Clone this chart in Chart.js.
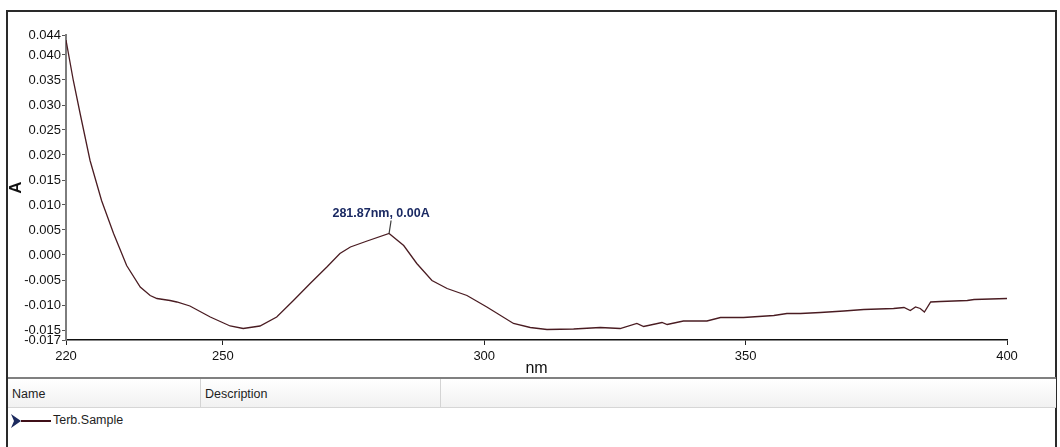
<!DOCTYPE html>
<html>
<head>
<meta charset="utf-8">
<script src="https://cdn.jsdelivr.net/npm/chart.js@4/dist/chart.umd.min.js"></script>
<style>
    body { margin: 0; background: #fff; width: 1060px; height: 447px; overflow: hidden; position: relative; }
    #frame { position: absolute; left: 6px; top: 10px; width: 1051px; height: 470px; border: 2px solid #2a2a2a; box-sizing: border-box; }
    #chartBox { position: absolute; left: 8px; top: 12px; width: 1048px; height: 365px; }
    #sep { position: absolute; left: 8px; top: 377px; width: 1048px; height: 2px; background: #808080; }
    #header { position: absolute; left: 8px; top: 379px; width: 1048px; height: 28px; background: linear-gradient(#ffffff, #f1f1f1); border-bottom: 1px solid #d6d6d6; }
    .col { position: absolute; top: 0; height: 28px; width: 1px; background: #d4d4d4; }
    .txt { position: absolute; font-family: 'Liberation Sans', Arial, sans-serif; font-size: 12.5px; color: #1e1e1e; white-space: nowrap; }
    #legendLine { position: absolute; left: 21px; top: 420px; width: 30px; height: 2px; background: #3f0f18; }
</style>
</head>
<body>
<div id="frame"></div>
<div id="chartBox"><canvas id="spectrumChart"></canvas></div>
<div id="sep"></div>
<div id="header">
    <div class="col" style="left:192px"></div>
    <div class="col" style="left:432px"></div>
</div>
<div class="txt" id="nameHead" style="left:12px; top:387px;">Name</div>
<div class="txt" id="descHead" style="left:205px; top:387px;">Description</div>
<svg style="position:absolute; left:11px; top:414px;" width="11" height="14"><polygon points="0,0 10,7 0,14 3,7" fill="#1c2a5e"/></svg>
<div id="legendLine"></div>
<div class="txt" id="seriesLabel" style="left:53px; top:413px;"></div>

<script>
// spectrum (nm / absorbance)
const wavelengths = [220.0, 221.4, 222.7, 224.6, 226.8, 229.1, 231.6, 234.2, 236.1, 237.4, 239.9, 241.2, 243.7, 247.6, 251.4, 253.9, 257.1, 260.3, 263.5, 266.7, 269.9, 272.4, 274.4, 277.6, 281.8, 284.6, 287.1, 290.0, 292.9, 296.7, 300.5, 305.6, 308.8, 312.0, 317.1, 322.2, 326.0, 329.2, 330.5, 334.0, 335.0, 338.1, 342.6, 345.2, 349.6, 355.4, 357.9, 360.5, 364.3, 368.8, 372.6, 378.3, 380.3, 381.5, 382.5, 383.4, 384.2, 385.4, 387.3, 392.4, 393.7, 400.0];
const absorbance = [0.0430, 0.0349, 0.0283, 0.0189, 0.0109, 0.0043, -0.0021, -0.0064, -0.0081, -0.0087, -0.0091, -0.0094, -0.0102, -0.0124, -0.0142, -0.0147, -0.0142, -0.0124, -0.0091, -0.0057, -0.0024, 0.0003, 0.0016, 0.0028, 0.0043, 0.0019, -0.0017, -0.0051, -0.0067, -0.0081, -0.0104, -0.0137, -0.0145, -0.0149, -0.0148, -0.0145, -0.0147, -0.0137, -0.0143, -0.0135, -0.0139, -0.0132, -0.0132, -0.0125, -0.0125, -0.0121, -0.0117, -0.0117, -0.0115, -0.0112, -0.0109, -0.0107, -0.0105, -0.0111, -0.0104, -0.0107, -0.0114, -0.0094, -0.0093, -0.0091, -0.0089, -0.0087];
const yTicks = [0.044, 0.040, 0.035, 0.030, 0.025, 0.020, 0.015, 0.010, 0.005, 0.000, -0.005, -0.010, -0.015, -0.017];
const xTicks = [220, 250, 300, 350, 400];
const peakLabel = '281.87nm, 0.00A';
const seriesName = 'Terb.Sample';

const sansFont = "'Liberation Sans', Arial, sans-serif";

document.getElementById('seriesLabel').textContent = seriesName;

// peak label with its small leader line
const peakMarker = {
    id: 'peakMarker',
    afterDatasetsDraw: function(chart) {
        const ctx = chart.ctx;
        const xs = chart.scales.x, ys = chart.scales.y;
        let best = -1;
        wavelengths.forEach((w, i) => {
            if (w > 260 && w < 300 && (best < 0 || absorbance[i] > absorbance[best])) best = i;
        });
        if (best < 0) return;
        const px = xs.getPixelForValue(wavelengths[best]);
        const py = ys.getPixelForValue(absorbance[best]);
        ctx.save();
        ctx.strokeStyle = '#3a3a3a';
        ctx.lineWidth = 1.2;
        ctx.beginPath();
        ctx.moveTo(px, py);
        ctx.lineTo(px + 2, py - 13);
        ctx.stroke();
        ctx.fillStyle = '#1b2a63';
        ctx.font = 'bold 12.5px ' + sansFont;
        ctx.textAlign = 'center';
        ctx.textBaseline = 'bottom';
        ctx.fillText(peakLabel, px - 8, py - 14);
        ctx.restore();
    }
};

const ctx = document.getElementById('spectrumChart').getContext('2d');
const spectrumChart = new Chart(ctx, {
    type: 'line',
    data: {
        datasets: [{
            label: seriesName,
            data: wavelengths.map((w, i) => ({ x: w, y: absorbance[i] })),
            borderColor: '#4a1c22',
            borderWidth: 1.3,
            pointRadius: 0,
            tension: 0,
            fill: false
        }]
    },
    options: {
        responsive: true,
        maintainAspectRatio: false,
        animation: false,
        layout: { padding: { left: 0, top: 23, right: 49, bottom: 0 } },
        plugins: {
            legend: { display: false },
            tooltip: { enabled: false }
        },
        scales: {
            x: {
                type: 'linear',
                min: 220,
                max: 400,
                afterBuildTicks: function(scale) { scale.ticks = xTicks.map(v => ({ value: v })); },
                afterFit: function(scale) { scale.height = 37; },
                ticks: {
                    autoSkip: false,
                    maxRotation: 0,
                    padding: 4,
                    color: '#111',
                    font: { family: sansFont, size: 13 },
                    callback: v => String(v)
                },
                grid: { drawOnChartArea: false, tickLength: 5, color: '#222' },
                border: { color: '#111', width: 1.5 },
                title: {
                    display: true,
                    text: 'nm',
                    color: '#111',
                    padding: { top: 0, bottom: 0 },
                    font: { family: sansFont, size: 16, lineHeight: 1.1 }
                }
            },
            y: {
                min: -0.017,
                max: 0.044,
                afterBuildTicks: function(scale) { scale.ticks = yTicks.map(v => ({ value: v })); },
                afterFit: function(scale) { scale.width = 58; },
                ticks: {
                    autoSkip: false,
                    padding: 1,
                    color: '#111',
                    font: { family: sansFont, size: 13 },
                    callback: v => v.toFixed(3)
                },
                grid: { drawOnChartArea: false, tickLength: 4, color: '#555' },
                border: { color: '#7d7d7d', width: 2 },
                title: {
                    display: true,
                    text: 'A',
                    color: '#111',
                    padding: { top: 0, bottom: 0 },
                    font: { family: sansFont, size: 17, weight: 'bold', lineHeight: 1 }
                }
            }
        }
    },
    plugins: [peakMarker]
});
</script>
</body>
</html>
